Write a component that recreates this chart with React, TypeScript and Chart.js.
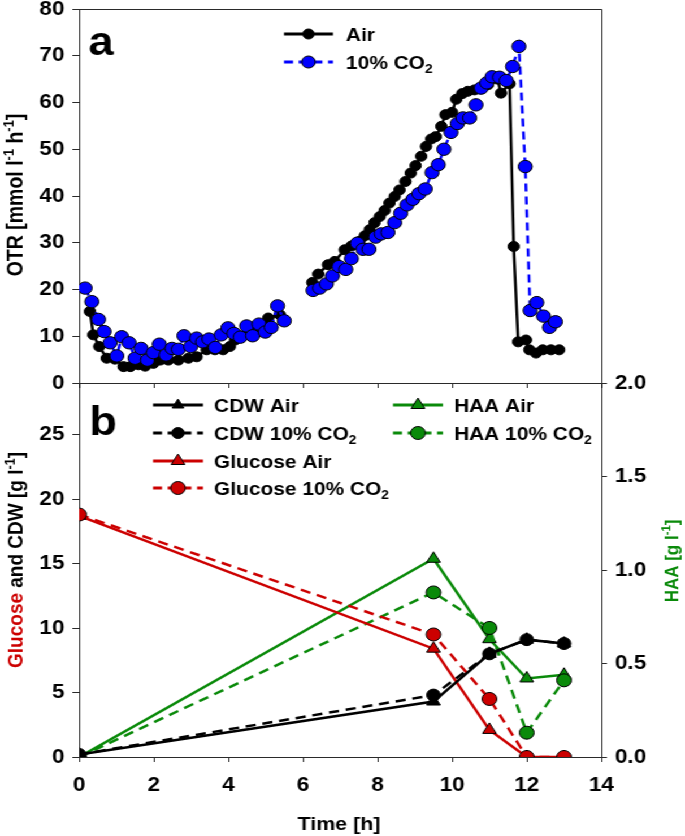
import React, { useEffect, useRef } from 'react';
import { Chart, registerables } from 'chart.js';

Chart.register(...registerables);

// ---------- data: panel a (OTR) ----------
const airTime = [0.29, 0.38, 0.54, 0.74, 0.96, 1.19, 1.37, 1.59, 1.77, 1.99, 2.17, 2.39, 2.66, 2.93, 3.15, 3.42, 3.64, 3.86, 4.04, 4.18, 4.49, 4.76, 4.93, 5.07, 5.38, 5.47,
  5.9,
  6.25, 6.41, 6.67, 6.85, 7.12, 7.3, 7.52, 7.66, 7.79, 7.92, 8.06, 8.19, 8.32, 8.46, 8.59, 8.75, 8.89, 9.02, 9.17, 9.3, 9.44, 9.56, 9.71, 9.82, 10.0, 10.11, 10.27, 10.42, 10.6, 10.78, 10.96, 11.09, 11.22, 11.31, 11.54, 11.65, 11.77, 11.98, 12.07, 12.25, 12.43, 12.65, 12.87];
const airOtr = [15.3, 10.3, 7.8, 5.3, 5.1, 3.5, 3.5, 3.9, 3.6, 4.2, 4.9, 4.9, 4.9, 5.3, 5.6, 7.1, 7.1, 7.1, 7.8, 9.2, 10.6, 11.3, 12.1, 13.9, 14.6, 13.4,
  null,
  21.5, 23.3, 25.3, 26.0, 28.5, 29.3, 30.3, 31.5, 32.8, 34.3, 35.6, 36.9, 38.5, 39.9, 41.3, 43.1, 44.9, 46.5, 48.5, 50.6, 52.2, 52.7, 54.9, 57.4, 57.9, 60.7, 61.9, 62.4, 62.7, 62.9, 63.8, 65.2, 65.0, 62.0, 64.0, 29.2, 8.8, 9.2, 7.1, 6.4, 7.1, 7.1, 7.1];

const co2Time = [0.16, 0.34, 0.52, 0.67, 0.83, 1.01, 1.14, 1.34, 1.5, 1.66, 1.83, 1.99, 2.15, 2.33, 2.49, 2.66, 2.81, 2.99, 3.15, 3.31, 3.48, 3.65, 3.81, 3.99, 4.15, 4.32, 4.49, 4.65, 4.82, 4.99, 5.15, 5.32, 5.5,
  5.9,
  6.27, 6.45, 6.63, 6.79, 6.97, 7.15, 7.3, 7.46, 7.61, 7.77, 7.95, 8.1, 8.28, 8.46, 8.62, 8.79, 8.95, 9.11, 9.28, 9.46, 9.63, 9.78, 9.97, 10.14, 10.29, 10.47, 10.64, 10.78, 10.93, 11.07, 11.27, 11.45, 11.62, 11.79, 11.96, 12.09, 12.27, 12.45, 12.61, 12.77];
const co2Otr = [20.3, 17.4, 13.6, 11.0, 8.6, 5.8, 9.9, 8.6, 5.3, 7.4, 4.9, 6.5, 8.3, 6.0, 7.4, 7.2, 10.1, 7.8, 9.6, 8.8, 9.4, 7.6, 10.3, 11.8, 10.6, 9.8, 12.2, 10.1, 12.6, 10.9, 11.9, 16.5, 13.3,
  null,
  19.8, 20.3, 21.2, 22.9, 24.9, 24.3, 26.6, 29.9, 28.6, 28.6, 31.2, 31.9, 32.2, 34.3, 36.3, 38.1, 39.3, 40.5, 41.5, 45.0, 46.7, 50.0, 53.6, 55.5, 56.7, 56.7, 59.5, 63.1, 64.2, 65.5, 65.4, 64.7, 67.7, 72.0, 46.3, 15.5, 17.2, 14.3, 11.9, 13.1];

// ---------- data: panel b ----------
const sampleTime = [0, 9.5, 11, 12, 13];
const cdwAir = [0.2, 4.3, 8.0, 9.1, 8.8];
const cdwCo2 = [0.2, 4.8, 8.0, 9.1, 8.8];
const glucoseAir = [18.7, 8.4, 2.1, 0, 0];
const glucoseCo2 = [18.8, 9.5, 4.5, 0, 0];
const haaAir = [0, 1.06, 0.63, 0.42, 0.44];
const haaCo2 = [0, 0.88, 0.69, 0.13, 0.41];

// ---------- styling ----------
const W = 606;
const S = 685 / W;
const FONT = '"Liberation Sans", Arial, Helvetica, sans-serif';
const AXIS = '#2a2a2a';
const RED = '#cc0000';
const GREEN = '#0a8a0a';
const BLUE = '#0000ff';
const tickFont = { family: FONT, size: 20, weight: 'bold' as const, lineHeight: 1 };

const PAD_TOP = 20;
const TOP_WRAP = 9 - PAD_TOP;
const TOP_H = 420;
const BOTTOM_TOP = 383 - PAD_TOP;

type Seg = { t: string; c?: string; sup?: boolean; sub?: boolean };

function fontFor(seg: Seg, f: number) {
  const size = seg.sup || seg.sub ? f * 0.66 : f;
  return `bold ${size}px ${FONT}`;
}

function drawRich(ctx: CanvasRenderingContext2D, segs: Seg[], x: number, y: number, f: number, align: 'left' | 'center', color: string) {
  ctx.textBaseline = 'alphabetic';
  ctx.textAlign = 'left';
  let w = 0;
  for (const s of segs) {
    ctx.font = fontFor(s, f);
    w += ctx.measureText(s.t).width;
  }
  let cx = align === 'center' ? x - w / 2 : x;
  const base = y + 0.36 * f;
  for (const s of segs) {
    ctx.font = fontFor(s, f);
    ctx.fillStyle = s.c || color;
    const dy = s.sup ? -0.4 * f : s.sub ? 0.24 * f : 0;
    ctx.fillText(s.t, cx, base + dy);
    cx += ctx.measureText(s.t).width;
  }
}

function drawRotated(ctx: CanvasRenderingContext2D, segs: Seg[], x: number, y: number, f: number, color: string) {
  ctx.save();
  ctx.translate(x, y);
  ctx.rotate(-Math.PI / 2);
  drawRich(ctx, segs, 0, 0, f, 'center', color);
  ctx.restore();
}

function drawMarker(ctx: CanvasRenderingContext2D, kind: 'circle' | 'triangle', x: number, y: number, r: number, fill: string) {
  ctx.beginPath();
  if (kind === 'circle') {
    ctx.arc(x, y, r, 0, Math.PI * 2);
  } else {
    ctx.moveTo(x, y - r);
    ctx.lineTo(x + r * 0.866, y + r * 0.5);
    ctx.lineTo(x - r * 0.866, y + r * 0.5);
    ctx.closePath();
  }
  ctx.fillStyle = fill;
  ctx.fill();
  ctx.lineWidth = 1;
  ctx.strokeStyle = '#000';
  ctx.setLineDash([]);
  ctx.stroke();
}

function legendItem(ctx: CanvasRenderingContext2D, x1: number, x2: number, y: number, color: string, dashed: boolean,
  kind: 'circle' | 'triangle', r: number, segs: Seg[], tx: number) {
  ctx.save();
  ctx.strokeStyle = color;
  ctx.lineWidth = 3;
  ctx.setLineDash(dashed ? [8, 5] : []);
  ctx.beginPath();
  ctx.moveTo(x1, y);
  ctx.lineTo(x2, y);
  ctx.stroke();
  drawMarker(ctx, kind, (x1 + x2) / 2, y, r, color);
  drawRich(ctx, segs, tx, y, 18.5, 'left', '#000');
  ctx.restore();
}

const topDecor = {
  id: 'topDecor',
  afterDraw(chart: any) {
    const { ctx, chartArea: a } = chart;
    const oy = -TOP_WRAP;
    ctx.save();
    ctx.strokeStyle = AXIS;
    ctx.lineWidth = 1;
    ctx.beginPath();
    ctx.moveTo(a.left, Math.round(a.top) + 0.5);
    ctx.lineTo(Math.round(a.right) + 0.5, Math.round(a.top) + 0.5);
    ctx.lineTo(Math.round(a.right) + 0.5, a.bottom);
    ctx.stroke();
    ctx.fillStyle = '#000';
    ctx.font = `bold 40px ${FONT}`;
    ctx.textAlign = 'center';
    ctx.textBaseline = 'alphabetic';
    ctx.fillText('a', 101 / S, 55 + oy);
    legendItem(ctx, 284 / S, 333 / S, 34 + oy, '#000', false, 'circle', 5, [{ t: 'Air' }], 346 / S);
    legendItem(ctx, 284 / S, 333 / S, 62 + oy, BLUE, true, 'circle', 6, [{ t: '10% CO' }, { t: '2', sub: true }], 346 / S);
    drawRotated(ctx, [{ t: 'OTR [mmol l' }, { t: '-1', sup: true }, { t: ' h' }, { t: '-1', sup: true }, { t: ']' }], 15 / S, 195 + oy, 19.5, '#000');
    ctx.restore();
  },
};

const bottomDecor = {
  id: 'bottomDecor',
  afterDraw(chart: any) {
    const { ctx, chartArea: a } = chart;
    const oy = -BOTTOM_TOP;
    ctx.save();
    ctx.strokeStyle = AXIS;
    ctx.lineWidth = 1;
    ctx.beginPath();
    ctx.moveTo(a.left, Math.round(a.top) + 0.5);
    ctx.lineTo(a.right, Math.round(a.top) + 0.5);
    ctx.stroke();
    ctx.fillStyle = '#000';
    ctx.font = `bold 40px ${FONT}`;
    ctx.textAlign = 'center';
    ctx.textBaseline = 'alphabetic';
    ctx.fillText('b', 103 / S, 435 + oy);
    const c1a = 153 / S, c1b = 203 / S, t1 = 214 / S;
    const c2a = 393 / S, c2b = 443 / S, t2 = 454 / S;
    const r1 = 405 + oy, r2 = 433 + oy, r3 = 461 + oy, r4 = 488 + oy;
    legendItem(ctx, c1a, c1b, r1, '#000', false, 'triangle', 6, [{ t: 'CDW Air' }], t1);
    legendItem(ctx, c1a, c1b, r2, '#000', true, 'circle', 5.5, [{ t: 'CDW 10% CO' }, { t: '2', sub: true }], t1);
    legendItem(ctx, c1a, c1b, r3, RED, false, 'triangle', 7, [{ t: 'Glucose Air' }], t1);
    legendItem(ctx, c1a, c1b, r4, RED, true, 'circle', 6.5, [{ t: 'Glucose 10% CO' }, { t: '2', sub: true }], t1);
    legendItem(ctx, c2a, c2b, r1, GREEN, false, 'triangle', 7, [{ t: 'HAA Air' }], t2);
    legendItem(ctx, c2a, c2b, r2, GREEN, true, 'circle', 6.5, [{ t: 'HAA 10% CO' }, { t: '2', sub: true }], t2);
    drawRotated(ctx, [{ t: 'Glucose', c: RED }, { t: ' and CDW [g l' }, { t: '-1', sup: true }, { t: ']' }], 15 / S, 560 + oy, 19, '#000');
    drawRotated(ctx, [{ t: 'HAA [g l' }, { t: '-1', sup: true }, { t: ']' }], 671 / S, 561 + oy, 17, GREEN);
    drawRich(ctx, [{ t: 'Time [h]' }], 339 / S, 823 + oy, 19, 'center', '#000');
    ctx.restore();
  },
};

const CHART_LEFT = Math.round(79 / S);
const CHART_RIGHT = Math.round(601 / S);

function xScale(showLabels: boolean, height: number, padding: number) {
  return {
    type: 'linear' as const,
    min: 0,
    max: 14,
    ticks: { stepSize: 2, color: showLabels ? '#000' : 'rgba(0,0,0,0)', font: tickFont, padding, maxRotation: 0, autoSkip: false },
    grid: { drawOnChartArea: false, drawTicks: true, tickLength: 5, color: AXIS, lineWidth: 1 },
    border: { display: true, color: AXIS, width: 1 },
    afterFit: (s: any) => { s.height = height; },
  };
}

export default function App() {
  const topRef = useRef<HTMLCanvasElement>(null);
  const botRef = useRef<HTMLCanvasElement>(null);

  useEffect(() => {
    const top = new Chart(topRef.current!, {
      type: 'line',
      data: {
        datasets: [
          {
            label: '10% CO2',
            data: co2Time.map((t, i) => ({ x: t, y: co2Otr[i] })),
            borderColor: BLUE,
            borderWidth: 2.5,
            borderDash: [8, 5],
            pointRadius: 6.2,
            pointBackgroundColor: BLUE,
            pointBorderColor: '#000',
            pointBorderWidth: 1,
            spanGaps: false,
            tension: 0,
            order: 0,
          },
          {
            label: 'Air',
            data: airTime.map((t, i) => ({ x: t, y: airOtr[i] })),
            borderColor: '#000',
            borderWidth: 2.5,
            pointRadius: 5,
            pointBackgroundColor: '#000',
            pointBorderColor: '#000',
            pointBorderWidth: 1,
            spanGaps: false,
            tension: 0,
            order: 1,
          },
        ] as any,
      },
      options: {
        animation: false,
        responsive: true,
        maintainAspectRatio: false,
        layout: { padding: { top: PAD_TOP, right: W - CHART_RIGHT, left: 0, bottom: 0 } },
        plugins: { legend: { display: false }, tooltip: { enabled: false } },
        scales: {
          x: xScale(false, TOP_H - PAD_TOP - (383 - 9), 2) as any,
          y: {
            min: 0,
            max: 80,
            ticks: { stepSize: 10, color: '#000', font: tickFont, padding: 7 },
            grid: { drawOnChartArea: false, tickLength: 6, color: AXIS },
            border: { display: true, color: AXIS, width: 1 },
            afterFit: (s: any) => { s.width = CHART_LEFT; },
          } as any,
        },
      },
      plugins: [topDecor],
    });

    const mk = (label: string, ys: number[], color: string, dashed: boolean, style: string, r: number, axis: string, order: number) => ({
      label,
      data: sampleTime.map((t, i) => ({ x: t, y: ys[i] })),
      borderColor: color,
      borderWidth: 2.5,
      borderDash: dashed ? [9, 6] : [],
      pointStyle: style,
      pointRadius: r,
      pointBackgroundColor: color,
      pointBorderColor: '#000',
      pointBorderWidth: 1,
      tension: 0,
      yAxisID: axis,
      order,
    });

    const bot = new Chart(botRef.current!, {
      type: 'line',
      data: {
        datasets: [
          mk('CDW Air', cdwAir, '#000', false, 'triangle', 7, 'y', 1),
          mk('CDW 10% CO2', cdwCo2, '#000', true, 'circle', 6, 'y', 0),
          mk('Glucose Air', glucoseAir, RED, false, 'triangle', 7, 'y', 3),
          mk('Glucose 10% CO2', glucoseCo2, RED, true, 'circle', 6.5, 'y', 2),
          mk('HAA Air', haaAir, GREEN, false, 'triangle', 7, 'y2', 5),
          mk('HAA 10% CO2', haaCo2, GREEN, true, 'circle', 6.5, 'y2', 4),
        ] as any,
      },
      options: {
        animation: false,
        responsive: true,
        maintainAspectRatio: false,
        layout: { padding: { top: PAD_TOP, right: 0, left: 0, bottom: 0 } },
        plugins: { legend: { display: false }, tooltip: { enabled: false } },
        scales: {
          x: xScale(true, 836 - 757, 13) as any,
          y: {
            position: 'left',
            min: 0,
            max: 29,
            ticks: { stepSize: 5, includeBounds: false, color: '#000', font: tickFont, padding: 7 },
            grid: { drawOnChartArea: false, tickLength: 6, color: AXIS },
            border: { display: true, color: AXIS, width: 1 },
            afterFit: (s: any) => { s.width = CHART_LEFT; },
          } as any,
          y2: {
            position: 'right',
            min: 0,
            max: 2,
            ticks: { stepSize: 0.5, color: '#000', font: tickFont, padding: 7, callback: (v: any) => Number(v).toFixed(1) },
            grid: { drawOnChartArea: false, tickLength: 5, color: AXIS },
            border: { display: true, color: AXIS, width: 1 },
            afterFit: (s: any) => { s.width = W - CHART_RIGHT; },
          } as any,
        },
      },
      plugins: [bottomDecor],
    });

    return () => {
      top.destroy();
      bot.destroy();
    };
  }, []);

  return (
    <div style={{ position: 'absolute', left: 0, top: 0, width: 685, height: 836, overflow: 'hidden', background: '#fff' }}>
      <div style={{ position: 'absolute', left: 0, top: 0, width: W, height: 836, transform: `scaleX(${S})`, transformOrigin: '0 0' }}>
        <div style={{ position: 'absolute', left: 0, top: TOP_WRAP, width: W, height: TOP_H }}>
          <canvas ref={topRef} />
        </div>
        <div style={{ position: 'absolute', left: 0, top: BOTTOM_TOP, width: W, height: 836 - BOTTOM_TOP }}>
          <canvas ref={botRef} />
        </div>
      </div>
    </div>
  );
}
